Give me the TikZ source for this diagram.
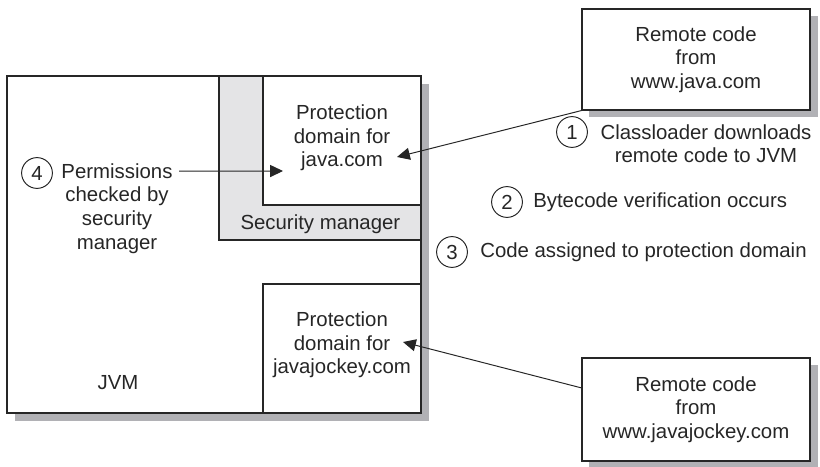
\documentclass[tikz,border=0pt]{standalone}
\usepackage{fontspec}
\setmainfont{Liberation Sans}
\usepackage{tikz}
\usetikzlibrary{arrows.meta}
\definecolor{inkdark}{HTML}{262626}
\definecolor{shadegray}{HTML}{B1B1B5}
\definecolor{mgrgray}{HTML}{E4E4E6}

\begin{document}
\begin{tikzpicture}[x=1cm, y=1cm, font=\fontsize{14.5}{16.8}\selectfont,
  stepnum/.style={draw=inkdark, line width=0.7pt, circle, minimum size=0.77cm, inner sep=0pt, text=inkdark},
  remotebox/.style={draw=inkdark, line width=0.8pt, fill=white, align=center, text=inkdark, inner sep=0pt},
  lbl/.style={align=center, text=inkdark, inner sep=0pt},
  feed/.style={draw=inkdark, line width=0.7pt, -{Triangle[length=0.32cm, width=0.3cm]}}]
\useasboundingbox (0,0) rectangle (20.5,11.65);
% JVM frame with its drop shadow; security manager L-shape; two protection domains
\fill[shadegray] (0.375,1.125) rectangle (10.725,9.55);
\fill[white] (0.175,1.325) rectangle (10.525,9.75);
\fill[mgrgray] (5.475,5.65) rectangle (10.525,9.75);
\draw[inkdark, line width=0.8pt] (5.475,9.75) |- (10.525,5.65);
\filldraw[fill=white, draw=inkdark, line width=0.8pt] (6.575,6.525) rectangle (10.525,9.75);
\draw[inkdark, line width=0.8pt] (6.575,1.325) rectangle (10.525,4.55);
\draw[inkdark, line width=1.3pt] (0.175,1.325) rectangle (10.525,9.75);

\node[lbl] (secmgr) at (8.01,6.05) {Security manager};
\node[lbl] (pdjava) at (8.55,8.2) {Protection\\domain for\\java.com};
\node[lbl] (pdjockey) at (8.55,3.025) {Protection\\domain for\\javajockey.com};
\node[lbl] (jvm) at (2.95,2.075) {JVM};

% remote sources
\fill[shadegray] (14.725,8.725) rectangle (20.45,11.25);
\node[remotebox, minimum width=5.7cm, minimum height=2.525cm] (remjava) at (17.4,10.1625) {Remote code\\from\\www.java.com};
\fill[shadegray] (14.725,-0.05) rectangle (20.45,2.525);
\node[remotebox, minimum width=5.7cm, minimum height=2.575cm] (remjockey) at (17.4,1.4125) {Remote code\\from\\www.javajockey.com};

% steps
\node[stepnum] (s1) at (14.3,8.35) {1};
\node[lbl] (t1) at (17.65,8.06) {Classloader downloads\\remote code to JVM};
\node[stepnum] (s2) at (12.675,6.6) {2};
\node[lbl, anchor=west] (t2) at (13.325,6.6) {Bytecode verification occurs};
\node[stepnum] (s3) at (11.3,5.35) {3};
\node[lbl, anchor=west] (t3) at (12.0,5.35) {Code assigned to protection domain};
\node[stepnum] (s4) at (0.925,7.325) {4};
\node[lbl] (perm) at (2.925,6.44) {Permissions\\checked by\\security\\manager};

\coordinate (tipjava) at (9.925,7.725);
\coordinate (tipjockey) at (10.075,3.1);
\coordinate (tipperm) at (7.075,7.375);
\draw[feed] (remjava.south west) -- (tipjava);
\draw[feed] ([yshift=0.54cm]remjockey.west) -- (tipjockey);
\draw[feed] ([shift={(0.16,-0.2)}]perm.north east) -- (tipperm);
\end{tikzpicture}
\end{document}
